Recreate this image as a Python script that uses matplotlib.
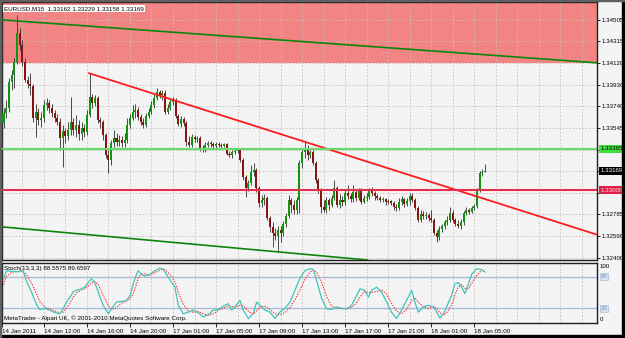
import matplotlib
matplotlib.use('Agg')
import matplotlib.pyplot as plt
from matplotlib.patches import Rectangle
import matplotlib.transforms as mtransforms

plt.rcParams['font.family'] = ['Liberation Sans', 'DejaVu Sans']

# EURUSD M15, 180 bars (14 Jan 2011 08:00 .. 18 Jan 2011 05:30)
first_open = 1.33593
close = [
    1.33682, 1.33726, 1.33956, 1.34018, 1.34133, 1.34390, 1.34284, 1.34133, 1.33974, 1.33939,
    1.33921, 1.33638, 1.33691, 1.33620, 1.33638, 1.33753, 1.33770, 1.33726, 1.33682, 1.33638,
    1.33602, 1.33461, 1.33523, 1.33478, 1.33531, 1.33602, 1.33531, 1.33576, 1.33496, 1.33549,
    1.33514, 1.33664, 1.33824, 1.33770, 1.33815, 1.33620, 1.33602, 1.33487, 1.33310, 1.33266,
    1.33416, 1.33461, 1.33425, 1.33443, 1.33416, 1.33443, 1.33576, 1.33638, 1.33691, 1.33708,
    1.33647, 1.33602, 1.33576, 1.33655, 1.33691, 1.33753, 1.33815, 1.33868, 1.33841, 1.33859,
    1.33691, 1.33726, 1.33779, 1.33797, 1.33655, 1.33585, 1.33629, 1.33593, 1.33425, 1.33399,
    1.33470, 1.33452, 1.33461, 1.33363, 1.33354, 1.33399, 1.33416, 1.33408, 1.33390, 1.33408,
    1.33399, 1.33390, 1.33408, 1.33319, 1.33310, 1.33337, 1.33346, 1.33354, 1.33266, 1.33116,
    1.33018, 1.33062, 1.33160, 1.33177, 1.33018, 1.32885, 1.32912, 1.32930, 1.32753, 1.32673,
    1.32620, 1.32593, 1.32646, 1.32620, 1.32700, 1.32770, 1.32912, 1.32868, 1.32823, 1.32912,
    1.33239, 1.33337, 1.33372, 1.33310, 1.33337, 1.33239, 1.33089, 1.33000, 1.32850, 1.32823,
    1.32912, 1.32868, 1.32930, 1.33018, 1.32868, 1.32912, 1.32894, 1.32974, 1.32947, 1.32921,
    1.32983, 1.32930, 1.33000, 1.32894, 1.32930, 1.32939, 1.33000, 1.32974, 1.32947, 1.32930,
    1.32912, 1.32921, 1.32894, 1.32903, 1.32885, 1.32850, 1.32841, 1.32894, 1.32921, 1.32877,
    1.32903, 1.32947, 1.32912, 1.32841, 1.32735, 1.32788, 1.32770, 1.32779, 1.32753, 1.32735,
    1.32620, 1.32585, 1.32655, 1.32682, 1.32717, 1.32735, 1.32797, 1.32735, 1.32700, 1.32682,
    1.32717, 1.32797, 1.32823, 1.32806, 1.32841, 1.32859, 1.33000, 1.33151, 1.33162, 1.33169,
]
high = [
    1.33726, 1.33797, 1.33992, 1.34062, 1.34169, 1.34549, 1.34434, 1.34328, 1.34169, 1.34009,
    1.34036, 1.33939, 1.33762, 1.33726, 1.33691, 1.33797, 1.33815, 1.33797, 1.33762, 1.33708,
    1.33673, 1.33638, 1.33576, 1.33549, 1.33602, 1.33824, 1.33638, 1.33664, 1.33620, 1.33602,
    1.33585, 1.33708, 1.34036, 1.33850, 1.33841, 1.33832, 1.33647, 1.33620, 1.33505, 1.33354,
    1.33443, 1.33531, 1.33505, 1.33487, 1.33478, 1.33505, 1.33638, 1.33673, 1.33753, 1.33762,
    1.33735, 1.33673, 1.33638, 1.33682, 1.33726, 1.33788, 1.33850, 1.33903, 1.33885, 1.33885,
    1.33885, 1.33762, 1.33806, 1.33824, 1.33815, 1.33673, 1.33655, 1.33647, 1.33611, 1.33478,
    1.33496, 1.33487, 1.33478, 1.33478, 1.33399, 1.33425, 1.33434, 1.33434, 1.33425, 1.33425,
    1.33425, 1.33416, 1.33416, 1.33416, 1.33346, 1.33354, 1.33363, 1.33372, 1.33363, 1.33284,
    1.33133, 1.33089, 1.33222, 1.33239, 1.33195, 1.33036, 1.32956, 1.32965, 1.32947, 1.32770,
    1.32717, 1.32664, 1.32682, 1.32682, 1.32726, 1.32797, 1.32956, 1.32930, 1.32912, 1.32939,
    1.33266, 1.33372, 1.33425, 1.33399, 1.33354, 1.33354, 1.33257, 1.33107, 1.33018, 1.32912,
    1.32939, 1.32930, 1.32956, 1.33089, 1.33036, 1.32965, 1.32947, 1.33000, 1.33045, 1.32974,
    1.33045, 1.33000, 1.33018, 1.33018, 1.32956, 1.32974, 1.33018, 1.33027, 1.32992, 1.32965,
    1.32947, 1.32939, 1.32930, 1.32921, 1.32912, 1.32903, 1.32877, 1.32930, 1.32947, 1.32930,
    1.32930, 1.32974, 1.32974, 1.32930, 1.32859, 1.32823, 1.32815, 1.32806, 1.32797, 1.32823,
    1.32753, 1.32646, 1.32682, 1.32700, 1.32735, 1.32770, 1.32850, 1.32823, 1.32753, 1.32735,
    1.32744, 1.32815, 1.32850, 1.32841, 1.32859, 1.32877, 1.33018, 1.33169, 1.33186, 1.33229,
]
low = [
    1.33549, 1.33638, 1.33691, 1.33885, 1.33903, 1.34116, 1.34240, 1.34098, 1.33956, 1.33903,
    1.33841, 1.33602, 1.33470, 1.33576, 1.33558, 1.33602, 1.33708, 1.33682, 1.33647, 1.33602,
    1.33576, 1.33354, 1.33204, 1.33416, 1.33443, 1.33487, 1.33487, 1.33470, 1.33443, 1.33443,
    1.33470, 1.33487, 1.33647, 1.33726, 1.33744, 1.33593, 1.33549, 1.33443, 1.33284, 1.33151,
    1.33222, 1.33381, 1.33390, 1.33390, 1.33381, 1.33381, 1.33416, 1.33549, 1.33620, 1.33638,
    1.33620, 1.33576, 1.33549, 1.33558, 1.33638, 1.33673, 1.33726, 1.33797, 1.33815, 1.33797,
    1.33673, 1.33673, 1.33708, 1.33753, 1.33638, 1.33567, 1.33558, 1.33567, 1.33390, 1.33381,
    1.33381, 1.33425, 1.33425, 1.33346, 1.33337, 1.33337, 1.33381, 1.33381, 1.33372, 1.33372,
    1.33381, 1.33372, 1.33381, 1.33310, 1.33293, 1.33284, 1.33319, 1.33328, 1.33248, 1.33089,
    1.32939, 1.32992, 1.33045, 1.33124, 1.32983, 1.32850, 1.32850, 1.32868, 1.32735, 1.32629,
    1.32496, 1.32558, 1.32452, 1.32540, 1.32593, 1.32673, 1.32753, 1.32797, 1.32788, 1.32788,
    1.32797, 1.33195, 1.33284, 1.33266, 1.33284, 1.33222, 1.33062, 1.32974, 1.32797, 1.32806,
    1.32797, 1.32823, 1.32850, 1.32912, 1.32850, 1.32841, 1.32859, 1.32868, 1.32921, 1.32894,
    1.32894, 1.32903, 1.32912, 1.32877, 1.32885, 1.32903, 1.32921, 1.32947, 1.32912, 1.32912,
    1.32894, 1.32894, 1.32868, 1.32877, 1.32868, 1.32823, 1.32815, 1.32823, 1.32868, 1.32850,
    1.32859, 1.32868, 1.32894, 1.32823, 1.32717, 1.32717, 1.32744, 1.32744, 1.32726, 1.32717,
    1.32602, 1.32540, 1.32558, 1.32629, 1.32655, 1.32691, 1.32717, 1.32717, 1.32682, 1.32664,
    1.32655, 1.32691, 1.32779, 1.32788, 1.32797, 1.32823, 1.32841, 1.32983, 1.33124, 1.33158,
]
opens = [first_open] + close[:-1]

# Stochastic(13,3,3) (bar position, value)
stoch_bar = [
    0, 1.1, 3, 4.8, 6.7, 7.3, 8.5, 10.4, 12.3, 13.5, 15.4, 17.2, 19.1, 20.9, 22.2, 23.4, 24.7,
    25.9, 27.1, 29, 30.2, 31.5, 32.7, 33.9, 35.2, 37, 39, 40.2, 42, 43.9, 45.7, 47, 48.2, 49.4,
    50.1, 51.3, 52.5, 54.4, 56.3, 58.1, 59.4, 60.6, 62.5, 63.7, 65, 66.8, 68.7, 70.5, 72.4,
    74.2, 76.1, 78, 79.2, 80.4, 82.3, 83.5, 84.8, 86, 87.9, 89.1, 91, 92.8, 94.1, 95.3, 97.2,
    99, 100.9, 102.7, 104.6, 106.5, 108.3, 110.2, 112, 113.9, 115.1, 116.4, 118.2, 120.1,
    121.9, 123.8, 125.7, 127.5, 129.4, 131.2, 132.5, 134.3, 135.6, 136.8, 138.7, 140.5, 142.4,
    144.2, 146.1, 148, 149.8, 151.7, 152.9, 154.2, 156, 157.9, 159.8, 161, 162.2, 163.5, 164.7,
    166.5, 167.8, 169, 170.3, 171.5, 172.8, 174, 175.8, 177.7, 178.9,
]
stoch_main = [
    76, 91, 90, 89, 90, 91, 72, 51, 27, 18, 20, 17, 12, 10, 20, 32, 41,
    51, 54, 57, 60, 69, 76, 69, 51, 26, 10, 20, 32, 33, 35, 44, 66, 84,
    91, 84, 81, 84, 91, 96, 94, 84, 69, 60, 26, 10, 13, 17, 12,
    4, 8, 17, 17, 20, 26, 29, 17, 23, 35, 17, 1, 10, 32, 26, 17,
    13, 1, 13, 20, 32, 54, 77, 91, 95, 94, 72, 40, 19,
    18, 23, 20, 19, 26, 44, 57, 54, 41, 54, 60, 51, 32,
    13, 1, 17, 35, 54, 32, 13, 23, 26, 23, 13, 2, 10, 23,
    44, 66, 69, 60, 48, 66, 84, 95, 93, 88.5575,
]
stoch_signal = [
    65, 80, 88, 90, 90, 90, 84, 68, 47, 33, 22, 19, 15, 12, 13, 20, 30,
    41, 49, 55, 57, 62, 68, 71, 65, 45, 25, 18, 22, 30, 34, 38, 48, 65,
    78, 85, 85, 83, 87, 92, 94, 91, 80, 70, 50, 28, 15, 13, 14,
    10, 7, 10, 14, 18, 22, 25, 24, 22, 26, 25, 15, 9, 16, 23, 24,
    18, 10, 8, 12, 22, 36, 55, 75, 88, 93, 88, 70, 42,
    25, 20, 20, 20, 22, 30, 42, 52, 50, 50, 52, 55, 47,
    30, 15, 10, 18, 35, 40, 32, 23, 20, 24, 20, 12, 7, 12,
    26, 45, 60, 65, 58, 57, 67, 82, 92, 89.6597,
]

price_ticks = [1.34505, 1.34315, 1.34120, 1.33930, 1.33740, 1.33545, 1.33355,
               1.33165, 1.32975, 1.32785, 1.32590, 1.32400]
hidden_ticks = [1.33355, 1.33165, 1.32975]   # covered by the level boxes
date_labels = ['14 Jan 2011', '14 Jan 12:00', '14 Jan 16:00', '14 Jan 20:00',
               '17 Jan 01:00', '17 Jan 05:00', '17 Jan 09:00', '17 Jan 13:00',
               '17 Jan 17:00', '17 Jan 21:00', '18 Jan 01:00', '18 Jan 05:00']
date_pos = [-0.5, 15, 31, 47, 63, 79, 95, 111, 127, 143, 159, 175]

zone_bottom = 1.34124                       # red rectangle
upper_chan = ((0, 1.34505), (221, 1.34125))   # green trend line (top)
lower_chan = ((0, 1.32673), (133, 1.32386))   # green trend line (bottom)
red_trend = ((31.5, 1.34036), (221, 1.32602))
green_level = 1.33365
red_level = 1.33000

BG = '#f4f4f4'
W, H = 625, 338
fig = plt.figure(figsize=(W / 100, H / 100), dpi=100, facecolor=BG)
ax = fig.add_axes([2 / W, 1 - 260 / H, 595 / W, 258 / H], facecolor=BG)
ax2 = fig.add_axes([2 / W, 1 - 323 / H, 595 / W, 60 / H], facecolor=BG)

x_lo, x_hi = -0.56, 220.6
y_lo, y_hi = 1.32381, 1.34664
for a in (ax, ax2):
    a.set_xlim(x_lo, x_hi)
    for s in a.spines.values():
        s.set_color('#202020')
        s.set_linewidth(1)
    for gx in range(7, 221, 8):
        a.axvline(gx, color='#cbbcbc', lw=0.6, ls=(0, (2, 2)), zorder=0.6)
ax.set_ylim(y_lo, y_hi)

# background zone + horizontal grid
ax.axhspan(zone_bottom, y_hi + 0.01, color='#f28484', lw=0, zorder=0.4)
for p in price_ticks:
    ax.axhline(p, color='#cbbcbc', lw=0.6, ls=(0, (2, 2)), zorder=0.6)

# candles
n = len(close)
xs = list(range(n))
ax.vlines(xs, low, high, color='#3c3c3c', lw=0.65, zorder=2)
for i in range(n):
    o, c = opens[i], close[i]
    if c > o:
        col = '#0f960f'
    elif c < o:
        col = '#8a1212'
    else:
        col = '#777777'
    hgt = max(abs(c - o), 0.000015)
    ax.bar(i, hgt, bottom=min(o, c), width=0.75, color=col, lw=0, zorder=3)

# objects
ax.axline(upper_chan[0], upper_chan[1], color='#0b860b', lw=1.2, zorder=4)
ax.axline(lower_chan[0], lower_chan[1], color='#0b860b', lw=1.2, zorder=4)
(x0, y0), (x1, y1) = red_trend
ax.plot([x0, x1], [y0, y1], color='#ff1c1c', lw=1.3, zorder=4, solid_capstyle='butt')
ax.axhline(green_level, color='#6ad86a', lw=1.6, zorder=4)
ax.axhline(red_level, color='#e2304c', lw=1.5, zorder=4)

# price scale
ax.yaxis.tick_right()
ax.set_yticks(price_ticks)
ax.set_yticklabels(['' if p in hidden_ticks else f'{p:.5f}' for p in price_ticks])
ax.tick_params(axis='y', labelsize=4.4, length=2, width=0.6, pad=1.5, colors='black')
ax.set_xticks([])

bt = mtransforms.blended_transform_factory(ax.transAxes, ax.transData)
box_kw = dict(transform=bt, fontsize=4.4, va='center', ha='left', clip_on=False, zorder=10)
ax.text(1.006, green_level, f'{green_level:.5f}', color='black',
        bbox=dict(boxstyle='square,pad=0.25', fc='#3ee03e', ec='none'), **box_kw)
ax.text(1.006, red_level, f'{red_level:.5f}', color='#ffd8d8',
        bbox=dict(boxstyle='square,pad=0.25', fc='#e0204a', ec='none'), **box_kw)
ax.text(1.006, close[-1], f'{close[-1]:.5f}', color='white',
        bbox=dict(boxstyle='square,pad=0.25', fc='black', ec='none'), **box_kw)

ax.text(0.004, 0.985,
        f'EURUSD,M15  {opens[-1]:.5f} {high[-1]:.5f} {low[-1]:.5f} {close[-1]:.5f}',
        transform=ax.transAxes, fontsize=4.5, va='top', ha='left', zorder=11,
        bbox=dict(boxstyle='square,pad=0.2', fc='white', ec='none'))

# stochastic panel
ax2.set_ylim(-7.4, 105.6)
ax2.axhline(80, color='#a9bdd8', lw=1.0, zorder=1)
ax2.axhline(20, color='#a9bdd8', lw=1.0, zorder=1)
ax2.plot(stoch_bar, stoch_signal, color='#ff2a2a', lw=0.8, ls=(0, (1.2, 1.2)), zorder=3)
ax2.plot(stoch_bar, stoch_main, color='#3ec4bc', lw=0.9, zorder=4)
ax2.yaxis.tick_right()
ax2.set_yticks([100, 0])
ax2.set_yticklabels(['100', '0'])
ax2.tick_params(axis='y', labelsize=4.4, length=0, pad=2)
bt2 = mtransforms.blended_transform_factory(ax2.transAxes, ax2.transData)
for lv in (80, 20):
    ax2.text(1.006, lv, str(lv), transform=bt2, fontsize=4.4, va='center', ha='left',
             color='#7d9cc8', clip_on=False,
             bbox=dict(boxstyle='square,pad=0.15', fc='#d6e2f0', ec='#a9bdd8', lw=0.5))
ax2.text(0.004, 0.95, f'Stoch(13,3,3) {stoch_main[-1]:.4f} {stoch_signal[-1]:.4f}',
         transform=ax2.transAxes, fontsize=4.5, va='top', ha='left')
ax2.text(0.003, 0.03, 'MetaTrader - Alpari UK, \u00a9 2001-2010 MetaQuotes Software Corp.',
         transform=ax2.transAxes, fontsize=4.5, va='bottom', ha='left')

ax2.set_xticks(date_pos)
ax2.set_xticklabels(date_labels)
for lab in ax2.get_xticklabels():
    lab.set_horizontalalignment('left')
ax2.tick_params(axis='x', labelsize=4.5, length=3, width=0.6, pad=1.5, colors='black')

# window frame
fig.patches.append(Rectangle((622 / W, 0), 3 / W, 1, transform=fig.transFigure,
                             color='black', zorder=20))
fig.patches.append(Rectangle((0, 0), 1, 3 / H, transform=fig.transFigure,
                             color='black', zorder=20))
fig.patches.append(Rectangle((0, 0), 1 / W, 1, transform=fig.transFigure,
                             color='#606060', zorder=20))
fig.patches.append(Rectangle((0, 1 - 1 / H), 1, 1 / H, transform=fig.transFigure,
                             color='#606060', zorder=20))

fig.savefig('out.png', dpi=100, facecolor=BG)
